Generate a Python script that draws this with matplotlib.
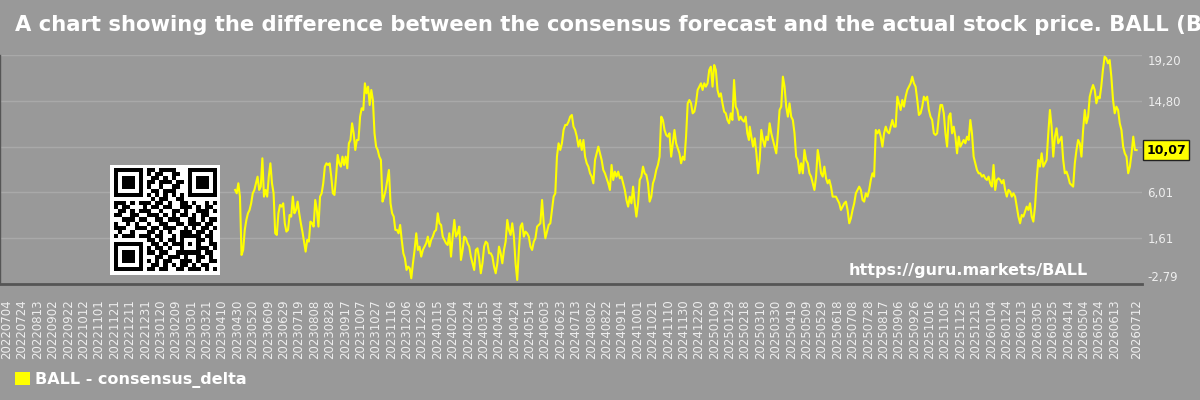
import numpy as np
import pandas as pd
import matplotlib
matplotlib.use('Agg')
import matplotlib.pyplot as plt
import matplotlib.transforms as mtransforms
from matplotlib.patches import Patch
from matplotlib.ticker import FuncFormatter

# consensus delta in four stretches (start date, end date, values)
seg_a_dates = ('2023-04-27', '2023-12-10')
seg_a = [6.24, 5.92, 6.88, 5.60, 0.00, 0.48, 2.40, 3.36, 4.00, 4.32, 4.96, 5.92, 6.24, 6.88, 7.52, 6.24,
         6.56, 9.28, 5.60, 6.24, 5.60, 7.52, 8.80, 6.88, 5.92, 2.08, 1.92, 4.00, 4.80, 4.64, 4.96, 3.04,
         2.24, 2.40, 3.84, 3.68, 5.60, 4.00, 4.32, 5.12, 4.00, 3.04, 2.24, 1.28, 0.32, 1.44, 1.28, 3.20,
         3.04, 2.72, 5.28, 4.32, 2.72, 5.60, 5.92, 6.88, 8.48, 8.80, 8.64, 8.80, 7.52, 5.92, 5.76, 7.52,
         9.60, 8.80, 8.48, 9.44, 8.64, 9.44, 8.32, 10.72, 11.04, 12.64, 11.68, 10.08, 11.04, 11.04, 13.28,
         14.08, 13.92, 16.48, 15.52, 16.16, 14.40, 15.84, 14.88, 11.68, 10.40, 10.08, 9.44, 9.12, 5.12,
         5.60, 6.24, 7.20, 8.16, 4.96, 4.00, 3.68, 2.40, 2.40, 2.08, 2.88, 1.44, 0.16, -0.32, -1.44,
         -1.12, -1.28]

seg_b_dates = ('2023-12-12', '2025-02-23')
seg_b = [-2.24, -0.80, 0.48, 2.08, 0.48, 0.80, -0.16, 0.48, 0.80, 1.12, 1.76, 0.80, 1.44, 1.76, 2.24,
         2.40, 4.00, 3.04, 2.88, 1.76, 1.44, 1.12, 0.96, 2.08, -0.16, 1.76, 3.36, 1.76, 2.08, 2.72,
         -0.48, 0.48, 1.76, 1.60, 1.12, 0.80, -0.16, -0.80, -1.44, 0.48, 0.64, -0.32, -1.76, -0.80,
         0.80, 1.28, 1.12, 0.16, 0.16, -0.16, -1.12, -1.76, -0.80, 0.80, 0.16, -0.80, 0.48, 1.28, 3.36,
         2.40, 1.92, 3.04, 1.76, -0.80, -2.40, 0.48, 2.72, 3.04, 1.76, 2.24, 2.08, 1.76, 0.80, 0.48,
         1.28, 1.60, 2.72, 2.88, 3.04, 5.28, 3.04, 1.60, 2.24, 2.88, 3.04, 4.32, 5.60, 5.92, 9.44,
         10.72, 10.08, 10.72, 12.00, 12.48, 12.48, 12.80, 13.28, 13.44, 12.32, 12.00, 11.36, 10.40,
         11.04, 10.08, 11.04, 9.44, 8.80, 8.48, 7.84, 7.52, 6.88, 9.12, 9.76, 10.40, 9.76, 9.12, 8.16,
         7.84, 7.36, 6.88, 6.24, 8.64, 7.20, 8.00, 7.52, 8.00, 7.36, 7.52, 6.88, 6.24, 5.28, 4.64,
         5.60, 4.96, 6.56, 4.96, 3.68, 4.96, 7.20, 7.52, 8.48, 7.84, 7.68, 6.88, 5.12, 5.60, 6.88,
         7.36, 8.16, 8.64, 9.44, 13.28, 12.96, 12.00, 11.52, 11.36, 11.68, 9.44, 10.72, 12.00, 10.72,
         10.24, 9.76, 8.80, 9.44, 9.12, 11.36, 14.56, 14.88, 14.56, 13.60, 13.76, 14.56, 15.84, 16.16,
         16.48, 15.84, 16.48, 16.16, 16.48, 17.76, 18.08, 16.16, 18.24, 17.76, 15.84, 15.20, 15.52,
         14.56, 13.76, 13.60, 12.96, 12.64, 13.60, 12.96, 16.80, 14.24, 13.92, 12.96, 13.28, 12.96,
         12.80, 13.28, 11.68, 11.04]

seg_c_dates = ('2025-02-24', '2026-05-25')
seg_c = [12.32, 11.36, 10.40, 11.20, 9.76, 7.84, 9.12, 12.00, 11.04, 10.40, 11.36, 11.04, 12.64,
         11.68, 11.04, 10.40, 9.76, 11.68, 13.92, 14.24, 17.12, 16.16, 14.24, 13.28, 14.56, 13.28,
         12.96, 11.68, 9.44, 9.12, 7.84, 8.80, 7.84, 10.08, 9.12, 8.80, 7.84, 7.52, 6.88, 6.24, 7.52,
         10.08, 9.12, 7.84, 7.52, 8.48, 7.36, 6.88, 7.20, 6.56, 5.60, 5.60, 5.60, 5.28, 4.96, 4.32,
         4.64, 4.96, 5.12, 4.32, 3.04, 3.52, 4.32, 4.96, 5.92, 6.24, 6.56, 6.24, 5.28, 5.12, 5.92,
         5.60, 6.24, 7.20, 7.84, 7.52, 12.00, 11.68, 12.00, 11.36, 10.40, 11.68, 12.32, 11.84, 11.68,
         12.32, 12.96, 12.32, 12.32, 15.20, 14.56, 13.92, 14.88, 14.24, 15.20, 15.84, 16.16, 16.48,
         17.12, 16.48, 16.16, 14.88, 13.44, 13.60, 14.24, 15.20, 14.88, 15.20, 13.92, 13.28, 12.96,
         11.68, 11.52, 11.68, 13.28, 14.40, 14.40, 13.60, 11.68, 10.40, 13.28, 13.60, 11.68, 12.32,
         11.36, 9.76, 11.36, 10.40, 10.72, 11.04, 10.72, 11.36, 11.04, 12.96, 11.68, 9.44, 8.80, 8.16,
         7.84, 7.84, 7.52, 7.68, 7.36, 7.20, 7.52, 6.88, 6.56, 8.64, 6.24, 7.20, 7.36, 7.20, 6.88,
         7.20, 6.24, 5.60, 6.24, 6.08, 5.60, 5.92, 5.60, 4.64, 3.68, 3.04, 3.84, 3.68, 4.16, 4.64,
         4.32, 4.96, 3.68, 3.20, 4.64, 7.20, 9.12, 8.48, 9.76, 8.48, 8.80, 9.12, 11.68, 13.92, 12.32,
         9.44, 11.36, 12.16, 10.72, 11.04, 11.36, 9.12, 7.84, 8.00, 7.52, 6.88, 6.72, 6.56, 8.80,
         10.08, 11.04, 10.72, 9.44, 12.00, 13.92, 12.64, 13.28, 15.20, 15.84, 16.32, 15.84, 14.56,
         15.20, 15.04]

seg_d_dates = ('2026-05-27', '2026-07-12')
seg_d = [16.16, 17.76, 19.04, 18.88, 18.40, 18.72, 17.12, 14.88, 13.60, 14.24, 13.92, 12.64, 12.00,
         10.40, 9.76, 9.44, 7.84, 8.48, 9.76, 11.36, 10.08, 10.07]

last_value = 10.07
y_min, y_max = -2.79, 19.20
tick_start, tick_end, tick_last = '2022-07-04', '2026-06-13', '2026-07-12'
x_left, x_right = '2022-06-25 07:00', '2026-07-19'

title = ('A chart showing the difference between the consensus forecast and the actual '
         'stock price. BALL (Ball Corporation)')
series_name = 'BALL - consensus_delta'
site = 'https://guru.markets/BALL'

# QR code modules (25 x 25)
F, E, M = '1111111', '1000001', '1011101'
qr_rows = [
    F + '0' + '110111100' + '0' + F,
    E + '0' + '101100110' + '0' + E,
    M + '0' + '011010100' + '0' + M,
    M + '0' + '110111011' + '0' + M,
    M + '0' + '100100110' + '0' + M,
    E + '0' + '011011100' + '0' + E,
    F + '0' + '101010101' + '0' + F,
    '00000000' + '010110011' + '00000000',
    '1110101110110100110100101',
    '1011000101101100111010110',
    '0110101110010011010011101',
    '1100110011101010110101100',
    '0011101100110111001101011',
    '1001010010011001101110110',
    '1110011101101110010101101',
    '0100100011010100111011010',
    '1011101110110010' + '11111' + '0110',
    '00000000' + '11010110' + '10001' + '1010',
    F + '0' + '01101011' + '10101' + '0011',
    E + '0' + '10110100' + '10001' + '1101',
    M + '0' + '11011001' + '11111' + '0110',
    M + '0' + '00110111010011010',
    M + '0' + '10101100111010011',
    E + '0' + '01101010110101100',
    F + '0' + '11011001101110101',
]

bg = '#999999'
yellow = '#ffff00'

# build the series
parts = []
for (d0, d1), vals in [(seg_a_dates, seg_a), (seg_b_dates, seg_b), (seg_c_dates, seg_c), (seg_d_dates, seg_d)]:
    parts.append(pd.Series(vals, index=pd.date_range(d0, d1, periods=len(vals))))
s = pd.concat(parts)

fig = plt.figure(figsize=(12, 4), dpi=100, facecolor=bg)
ax = fig.add_axes([0, 116 / 400, 1142 / 1200, 229 / 400], facecolor=bg)

ax.plot(s.index, s.values, color=yellow, lw=1.5, zorder=3)

ax.set_ylim(y_min, y_max)
ax.set_xlim(pd.Timestamp(x_left), pd.Timestamp(x_right))

yticks = np.linspace(y_min, y_max, 6)
ax.set_yticks(yticks)
ax.yaxis.tick_right()
ax.yaxis.set_major_formatter(FuncFormatter(lambda v, p: f'{v:.2f}'.replace('.', ',')))
ax.tick_params(axis='y', length=0, pad=4, labelsize=8.5, labelcolor='#eeeeee')
ylabels = ax.get_yticklabels()
ylabels[0].set_va('bottom')
ylabels[-1].set_va('top')
# the 10,40 label sits under the last-value tag
ylabels[3].set_visible(False)
ax.grid(axis='y', color='#a9a9a9', lw=1)

xticks = list(pd.date_range(tick_start, tick_end, freq='20D')) + [pd.Timestamp(tick_last)]
ax.set_xticks(xticks)
ax.set_xticklabels([t.strftime('%Y%m%d') for t in xticks], rotation=90)
ax.tick_params(axis='x', length=0, pad=11, labelsize=8.5, labelcolor='#eeeeee')

for side in ['top', 'right']:
    ax.spines[side].set_visible(False)
ax.spines['left'].set_color('#555555')
ax.spines['left'].set_linewidth(1)
ax.spines['bottom'].set_color('#555555')
ax.spines['bottom'].set_linewidth(2)

# last value tag
trans = mtransforms.blended_transform_factory(ax.transAxes, ax.transData)
ax.text(1.004, last_value, f'{last_value:.2f}'.replace('.', ','), transform=trans,
        ha='left', va='center', fontsize=9, fontweight='bold', color='black', zorder=5,
        bbox=dict(boxstyle='square,pad=0.25', facecolor=yellow, edgecolor='#222222', lw=1),
        clip_on=False)

ax.text(1088 / 1142, 14 / 229, site, transform=ax.transAxes, ha='right', va='center',
        fontsize=11.5, fontweight='bold', color='white')

fig.text(15 / 1200, 1 - 25 / 400, title, ha='left', va='center', fontsize=15.2,
         fontweight='bold', color='white')

fig.legend(handles=[Patch(facecolor=yellow, label=series_name)], loc='center left',
           bbox_to_anchor=(1 / 1200, 1 - 380 / 400), frameon=False, handlelength=0.9,
           handleheight=0.9, handletextpad=0.35, labelcolor='white',
           prop={'weight': 'bold', 'size': 11.5})

# QR code on a white card
qax = fig.add_axes([110 / 1200, 1 - 275 / 400, 110 / 1200, 110 / 400], facecolor='white')
qr = np.array([[int(c) for c in row] for row in qr_rows])
qax.imshow(qr, cmap='gray_r', vmin=0, vmax=1, interpolation='nearest', extent=(0, 25, 25, 0))
qax.set_xlim(-0.85, 25.85)
qax.set_ylim(25.85, -0.85)
qax.set_xticks([])
qax.set_yticks([])
for sp in qax.spines.values():
    sp.set_visible(False)

fig.savefig('out.png', dpi=100, facecolor=bg)
